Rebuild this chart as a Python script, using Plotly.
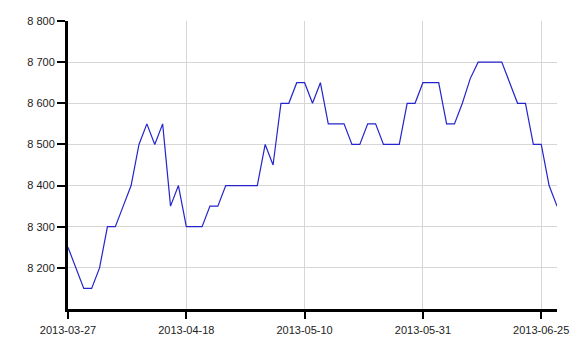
import plotly.graph_objects as go

values = [8250, 8200, 8150, 8150, 8200, 8300, 8300, 8350, 8400, 8500,
          8550, 8500, 8550, 8350, 8400, 8300, 8300, 8300, 8350, 8350,
          8400, 8400, 8400, 8400, 8400, 8500, 8450, 8600, 8600, 8650,
          8650, 8600, 8650, 8550, 8550, 8550, 8500, 8500, 8550, 8550,
          8500, 8500, 8500, 8600, 8600, 8650, 8650, 8650, 8550, 8550,
          8600, 8660, 8700, 8700, 8700, 8700, 8650, 8600, 8600, 8500,
          8500, 8400, 8350]
x_index = list(range(len(values)))
tick_positions = [0, 15, 30, 45, 60]
tick_labels = ["2013-03-27", "2013-04-18", "2013-05-10", "2013-05-31", "2013-06-25"]
y_ticks = [8200, 8300, 8400, 8500, 8600, 8700, 8800]

fig = go.Figure(go.Scatter(x=x_index, y=values, mode="lines",
                           line=dict(color="#2424cc", width=1.2),
                           hoverinfo="x+y"))

fig.update_layout(
    width=585, height=343,
    margin=dict(l=68, r=28, t=21, b=34),
    paper_bgcolor="white", plot_bgcolor="white",
    showlegend=False,
    separators=". ",
    font=dict(family="Liberation Sans, Arial, sans-serif", size=11, color="#222"),
)
fig.update_xaxes(
    range=[0, 62], tickmode="array", tickvals=tick_positions, ticktext=tick_labels,
    showgrid=True, gridcolor="#d6d6d6", gridwidth=1,
    showline=True, linecolor="black", linewidth=3,
    ticks="outside", ticklen=7, tickwidth=1.5, tickcolor="black",
    ticklabelstandoff=2, automargin=False,
    zeroline=False,
)
fig.update_yaxes(
    range=[8100, 8800], tickmode="array", tickvals=y_ticks,
    separatethousands=True, tickformat=",d",
    showgrid=True, gridcolor="#d6d6d6", gridwidth=1,
    showline=True, linecolor="black", linewidth=3,
    ticks="outside", ticklen=8, tickwidth=1.5, tickcolor="black",
    automargin=False,
    zeroline=False,
)

fig.write_html("out.html")
